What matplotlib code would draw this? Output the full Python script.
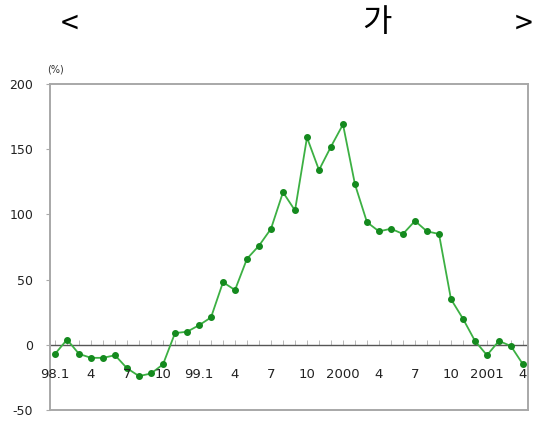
import matplotlib
matplotlib.use("Agg")
import matplotlib.pyplot as plt

values = [-7, 4, -7, -10, -10, -8, -18, -24, -22, -15,
          9, 10, 15, 21, 48, 42, 66, 76, 89, 117,
          103, 159, 134, 152, 169, 123, 94, 87, 89, 85,
          95, 87, 85, 35, 20, 3, -8, 3, -1, -15]
xlabels = ["98.1", "4", "7", "10", "99.1", "4", "7", "10",
           "2000", "4", "7", "10", "2001", "4"]
xlabel_pos = [0, 3, 6, 9, 12, 15, 18, 21, 24, 27, 30, 33, 36, 39]
yticks = [-50, 0, 50, 100, 150, 200]

plt.rcParams['font.family'] = ['Noto Sans CJK KR', 'DejaVu Sans']

fig = plt.figure(figsize=(5.34, 4.29), dpi=100)
ax = fig.add_axes([50/534, 1-410/429, (528-50)/534, (410-84)/429])

x = list(range(len(values)))
ax.plot(x, values, color='#3cb043', lw=1.3, marker='o', ms=4,
        mfc='#148a1e', mec='#148a1e', zorder=3)

ax.set_xlim(-0.42, 39.42)
ax.set_ylim(-50, 200)
ax.axhline(0, color='#555555', lw=1.0, zorder=2)
ax.vlines(x, 0, 4, color='#b8b8b8', lw=0.7, zorder=1)

for p, lab in zip(xlabel_pos, xlabels):
    ax.text(p, -23, lab, ha='center', va='center', fontsize=9.5,
            family='DejaVu Sans', color='#222222', zorder=4)

ax.set_xticks([])
ax.set_yticks(yticks)
ax.set_yticklabels([str(v) for v in yticks], fontsize=9,
                   family='DejaVu Sans', color='#222222')
ax.tick_params(axis='y', length=3, width=0.8, color='#aaaaaa', pad=9)
for s in ax.spines.values():
    s.set_color('#a8a8a8')
    s.set_linewidth(1.4)

fig.text(47/534, 1-69/429, "(%)", fontsize=7, family='DejaVu Sans',
         ha='left', va='center', color='#333333')

fig.text(70/534, 1-25/429, "<", fontsize=23, ha='center', va='center')
fig.text(377/534, 1-22/429, "가", fontsize=23, ha='center', va='center')
fig.text(533/534, 1-25/429, ">", fontsize=23, ha='right', va='center')

fig.savefig("out.png", dpi=100)
